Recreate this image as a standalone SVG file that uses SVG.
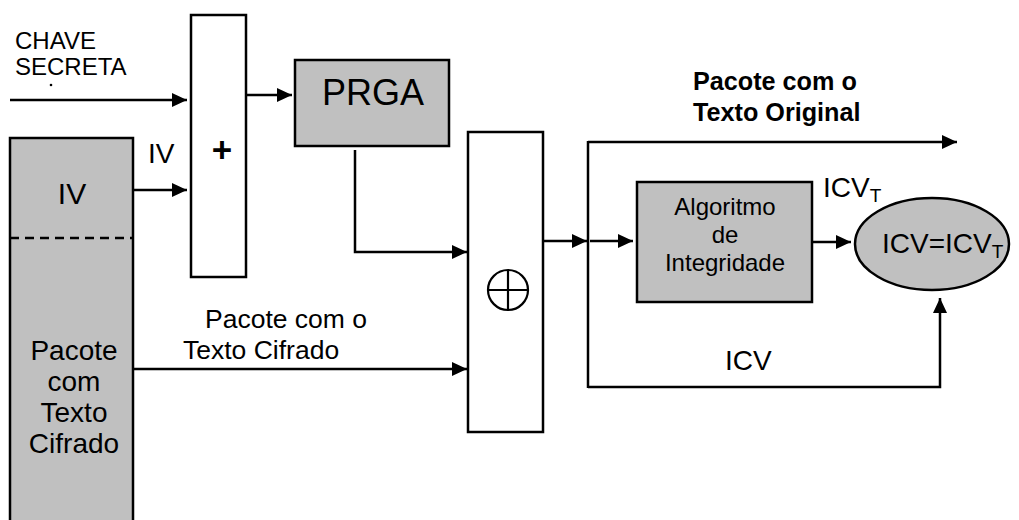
<svg xmlns="http://www.w3.org/2000/svg" width="1019" height="520" viewBox="0 0 1019 520">
<defs>
<marker id="ah" markerUnits="userSpaceOnUse" markerWidth="16" markerHeight="14" refX="15" refY="7" orient="auto">
<path d="M0,0 L15,7 L0,14 Z" fill="#000"/>
</marker>
<style>
.box{stroke:#000;stroke-width:2.5}
.gray{fill:#c0c0c0}
.white{fill:#fff}
.ln{fill:none;stroke:#000;stroke-width:2.5}
.arr{fill:none;stroke:#000;stroke-width:2.5;marker-end:url(#ah)}
.t{font-family:"Liberation Sans",Arial,sans-serif;fill:#000}
.c{text-anchor:middle}
</style>
</defs>
<rect width="1019" height="520" fill="#fff"/>
<g id="chave">
<text class="t" x="15" y="49" font-size="24">CHAVE</text>
<text class="t" x="15" y="75" font-size="24">SECRETA</text>
<circle cx="51" cy="85" r="1.3" fill="#000"/>
</g>
<g id="pacote-cifrado">
<rect class="box gray" x="10" y="138" width="123" height="400"/>
<line x1="10" y1="238" x2="133" y2="238" stroke="#000" stroke-width="2.5" stroke-dasharray="9,6"/>
<text class="t c" x="72" y="204" font-size="30">IV</text>
<text class="t c" x="74" y="360" font-size="28">Pacote</text>
<text class="t c" x="74" y="391" font-size="28">com</text>
<text class="t c" x="74" y="422" font-size="28">Texto</text>
<text class="t c" x="74" y="453" font-size="28">Cifrado</text>
</g>
<g id="soma">
<rect class="box white" x="191" y="15" width="55" height="262"/>
<text class="t c" x="222" y="162" font-size="35" font-weight="bold">+</text>
</g>
<g id="prga">
<rect class="box gray" x="295" y="60" width="154" height="86"/>
<text class="t c" x="373" y="105" font-size="36">PRGA</text>
</g>
<g id="xor">
<rect class="box white" x="468" y="132" width="75" height="300"/>
<circle cx="508" cy="290" r="20" fill="none" stroke="#000" stroke-width="2.2"/>
<line x1="488" y1="290" x2="528" y2="290" stroke="#000" stroke-width="2.2"/>
<line x1="508" y1="270" x2="508" y2="310" stroke="#000" stroke-width="2.2"/>
</g>
<g id="algoritmo">
<rect class="box gray" x="637" y="182" width="175" height="120"/>
<text class="t c" x="725" y="215" font-size="24">Algoritmo</text>
<text class="t c" x="725" y="243" font-size="24">de</text>
<text class="t c" x="725" y="271" font-size="24">Integridade</text>
</g>
<g id="comparacao">
<ellipse class="box gray" cx="932" cy="244" rx="77" ry="46"/>
<text class="t" x="882" y="253" font-size="28">ICV=ICV<tspan font-size="19" dy="5">T</tspan></text>
</g>
<g id="connectors">
<line class="arr" x1="10" y1="100" x2="187" y2="100"/>
<line class="arr" x1="133" y1="190" x2="187" y2="190"/>
<line class="arr" x1="246" y1="95" x2="292" y2="95"/>
<polyline class="arr" points="355,150 355,252 467,252"/>
<line class="arr" x1="133" y1="369" x2="467" y2="369"/>
<line class="arr" x1="543" y1="241" x2="587" y2="241"/>
<line class="ln" x1="588" y1="141" x2="588" y2="388"/>
<line class="arr" x1="590" y1="241" x2="633" y2="241"/>
<line class="arr" x1="588" y1="142" x2="957" y2="142"/>
<line class="arr" x1="812" y1="242" x2="851" y2="242"/>
<polyline class="arr" points="588,387 940,387 940,298"/>
</g>
<g id="labels">
<text class="t" x="148" y="163" font-size="28">IV</text>
<text class="t" x="205" y="328" font-size="26.5">Pacote com o</text>
<text class="t" x="183" y="359" font-size="26.5">Texto Cifrado</text>
<text class="t" x="693" y="90" font-size="25.2" font-weight="bold">Pacote com o</text>
<text class="t" x="693" y="121" font-size="25.2" font-weight="bold">Texto Original</text>
<text class="t" x="823" y="197" font-size="28">ICV<tspan font-size="19" dy="5">T</tspan></text>
<text class="t" x="725" y="370" font-size="28">ICV</text>
</g>
</svg>
